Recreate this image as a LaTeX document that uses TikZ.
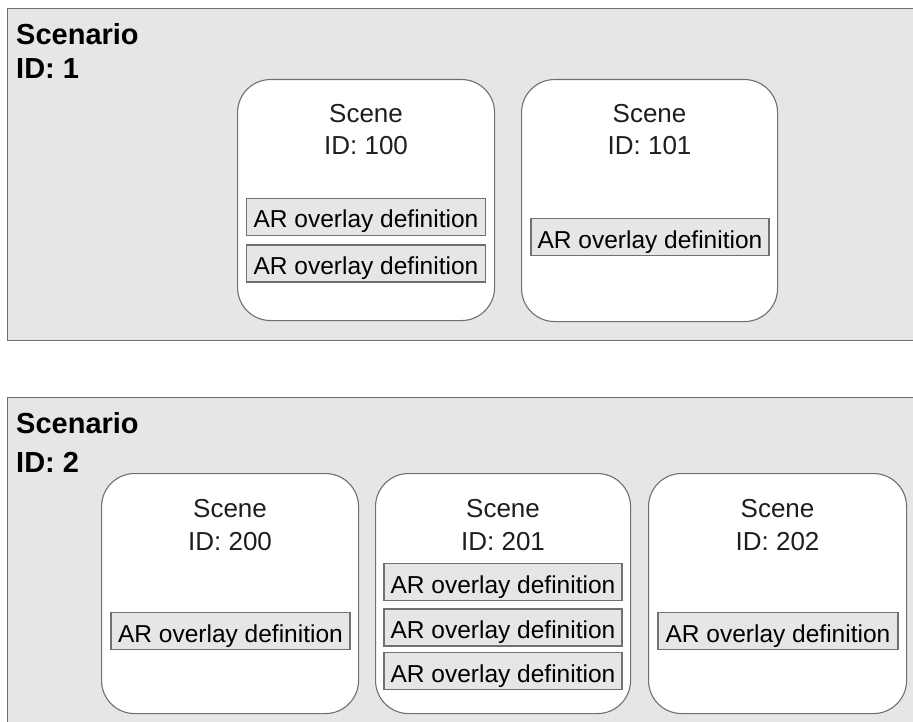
\documentclass[tikz,border=0pt]{standalone}
\usepackage{fontspec}
\setmainfont{Liberation Sans}
\definecolor{bggray}{RGB}{230,230,230}
\definecolor{edgegray}{RGB}{112,112,112}
\definecolor{scenetext}{RGB}{30,30,30}
\tikzset{
  scenariobox/.style={draw=edgegray, fill=bggray, line width=1.3pt, anchor=north west, inner sep=0pt},
  scenebox/.style={draw=edgegray, fill=white, line width=1.1pt, rounded corners=33pt, anchor=north west, inner sep=0pt},
  ovl/.style={draw=edgegray, fill=bggray, line width=1.1pt, inner sep=0pt, minimum width=239pt, minimum height=37pt, text height=22pt, text depth=0pt, font=\fontsize{24.5}{28}\selectfont},
  scenariotxt/.style={anchor=base west, inner sep=0pt, font=\fontsize{29}{34}\selectfont\bfseries},
  scenetxt/.style={anchor=base, inner sep=0pt, text=scenetext, font=\fontsize{26}{30}\selectfont},
}
\begin{document}
\begin{tikzpicture}[x=1pt,y=-1pt]
\useasboundingbox (0,0) rectangle (913,722);
\clip (0,0) rectangle (913,722);
% Scenario 1
\node[scenariobox, minimum width=1000pt, minimum height=332pt] (sc1) at (7,8) {};
\node[scenariotxt] (sc1a) at (16,45) {Scenario};
\node[scenariotxt] (sc1b) at (16,79) {ID: 1};
% Scene 100
\node[scenebox, minimum width=257pt, minimum height=241pt] (s100) at (237,79) {};
\node[scenetxt] (s100a) at ([yshift=-44pt]s100.north) {Scene};
\node[scenetxt] (s100b) at ([yshift=-76pt]s100.north) {ID: 100};
\node[ovl] (o100a) at (366,217) {AR overlay definition};
\node[ovl] (o100b) at (366,263.5) {AR overlay definition};
% Scene 101
\node[scenebox, minimum width=256pt, minimum height=242pt] (s101) at (521,79) {};
\node[scenetxt] (s101a) at ([yshift=-44pt]s101.north) {Scene};
\node[scenetxt] (s101b) at ([yshift=-76pt]s101.north) {ID: 101};
\node[ovl, minimum width=238pt] (o101) at (650,237) {AR overlay definition};
% Scenario 2
\node[scenariobox, minimum width=1000pt, minimum height=400pt] (sc2) at (7,397) {};
\node[scenariotxt] (sc2a) at (16,433) {Scenario};
\node[scenariotxt] (sc2b) at (16,472) {ID: 2};
% Scene 200
\node[scenebox, minimum width=257pt, minimum height=240pt] (s200) at (101,473) {};
\node[scenetxt] (s200a) at ([yshift=-44pt]s200.north) {Scene};
\node[scenetxt] (s200b) at ([yshift=-77pt]s200.north) {ID: 200};
\node[ovl] (o200) at (230.5,631) {AR overlay definition};
% Scene 201
\node[scenebox, minimum width=255pt, minimum height=240pt] (s201) at (375,473) {};
\node[scenetxt] (s201a) at ([yshift=-44pt]s201.north) {Scene};
\node[scenetxt] (s201b) at ([yshift=-77pt]s201.north) {ID: 201};
\node[ovl, minimum width=238pt] (o201a) at (503,582) {AR overlay definition};
\node[ovl, minimum width=238pt] (o201b) at (503,627.5) {AR overlay definition};
\node[ovl, minimum width=238pt] (o201c) at (503,671) {AR overlay definition};
% Scene 202
\node[scenebox, minimum width=258pt, minimum height=240pt] (s202) at (648,473) {};
\node[scenetxt] (s202a) at ([yshift=-44pt]s202.north) {Scene};
\node[scenetxt] (s202b) at ([yshift=-77pt]s202.north) {ID: 202};
\node[ovl, minimum width=240pt] (o202) at (778,631) {AR overlay definition};
\end{tikzpicture}
\end{document}
